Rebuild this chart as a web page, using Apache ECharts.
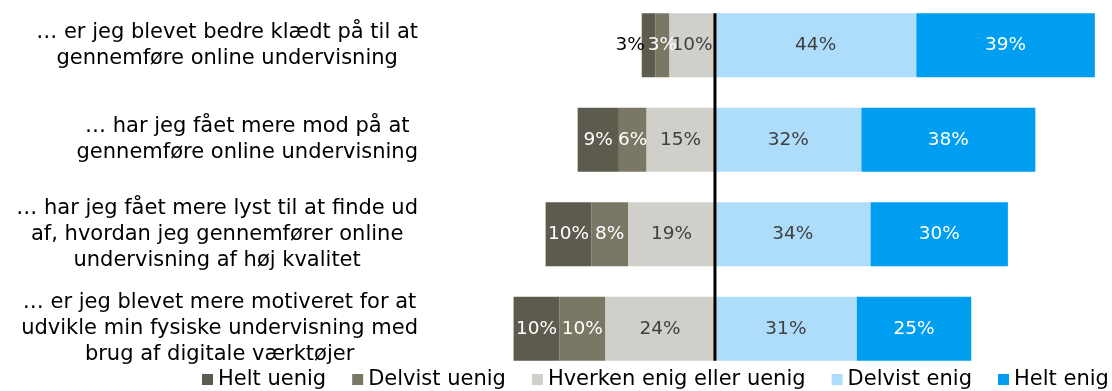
<!DOCTYPE html>
<html>
<head>
<meta charset="utf-8">
<script src="https://cdn.jsdelivr.net/npm/echarts@6/dist/echarts.min.js"></script>
<style>
  html, body { margin: 0; padding: 0; background: #fff; }
  #chart { width: 1112px; height: 391px; }
</style>
</head>
<body>
<div id="chart"></div>
<script>
// Survey statements (one bar each, top to bottom)
const categories = [
  '… er jeg blevet bedre klædt på til at\ngennemføre online undervisning',
  '… har jeg fået mere mod på at\ngennemføre online undervisning',
  '… har jeg fået mere lyst til at finde ud\naf, hvordan jeg gennemfører online\nundervisning af høj kvalitet',
  '… er jeg blevet mere motiveret for at\nudvikle min fysiske undervisning med\nbrug af digitale værktøjer'
];

// Answer shares in percent
const heltUenig    = [3, 9, 10, 10];
const delvistUenig = [3, 6, 8, 10];
const hverken      = [10, 15, 19, 24];
const delvistEnig  = [44, 32, 34, 31];
const heltEnig     = [39, 38, 30, 25];

const legendNames = ['Helt uenig', 'Delvist uenig', 'Hverken enig eller uenig', 'Delvist enig', 'Helt enig'];

const FONT = 'DejaVu Sans';
const BAR_W = 64;
const colors = {
  heltUenig: '#5d5b4d',
  delvistUenig: '#7a7865',
  hverken: '#d0cfca',
  delvistEnig: '#aeddfc',
  heltEnig: '#009ef0'
};

const pctLabel = (color) => ({
  show: true,
  position: 'inside',
  color: color,
  fontFamily: FONT,
  fontSize: 18.5,
  formatter: (p) => Math.abs(p.value) + '%'
});

function barSeries(name, values, color, labelColor, sign) {
  return {
    name: name,
    type: 'bar',
    stack: 'total',
    barWidth: BAR_W,
    itemStyle: { color: color },
    label: pctLabel(labelColor),
    emphasis: { disabled: true },
    data: values.map(v => sign * v)
  };
}

// Disagreeing and neutral answers extend to the left of zero
const sHverken = barSeries('Hverken enig eller uenig', hverken, colors.hverken, '#404040', -1);
const sDelvistUenig = barSeries('Delvist uenig', delvistUenig, colors.delvistUenig, '#ffffff', -1);
const sHeltUenig = barSeries('Helt uenig', heltUenig, colors.heltUenig, '#ffffff', -1);
// a segment too narrow for its label gets the label just outside
sHeltUenig.data = sHeltUenig.data.map((v, i) => heltUenig[i] < 5
  ? { value: v, label: { position: 'left', distance: -3, color: '#000000' } }
  : v);
const sDelvistEnig = barSeries('Delvist enig', delvistEnig, colors.delvistEnig, '#404040', 1);
const sHeltEnig = barSeries('Helt enig', heltEnig, colors.heltEnig, '#ffffff', 1);

// Vertical zero line spanning the bars
const zeroLine = {
  type: 'custom',
  name: 'zero',
  z: 10,
  silent: true,
  data: [[0, 0]],
  encode: { x: 0, y: 1 },
  renderItem: function (params, api) {
    const top = api.coord([0, 0]);
    const bottom = api.coord([0, categories.length - 1]);
    const half = BAR_W / 2;
    return {
      type: 'line',
      shape: { x1: top[0], y1: top[1] - half, x2: bottom[0], y2: bottom[1] + half },
      style: { stroke: '#000000', lineWidth: 3 }
    };
  }
};

const chart = echarts.init(document.getElementById('chart'), null, { renderer: 'canvas' });
chart.setOption({
  animation: false,
  backgroundColor: '#ffffff',
  textStyle: { fontFamily: FONT },
  grid: {
    left: 509, right: 8, top: -2, bottom: 15,
    containLabel: false,
    outerBoundsMode: 'none'
  },
  xAxis: {
    type: 'value',
    min: -45,
    max: 85,
    show: false
  },
  yAxis: {
    type: 'category',
    inverse: true,
    data: categories,
    axisLine: { show: false },
    axisTick: { show: false },
    splitLine: { show: false },
    axisLabel: {
      align: 'right',
      margin: 91,
      formatter: (v) => v.split('\n').map(line => '{c|' + line + '}').join('\n'),
      rich: {
        c: {
          align: 'center',
          fontFamily: FONT,
          fontSize: 21,
          lineHeight: 26,
          color: '#000000'
        }
      }
    }
  },
  legend: {
    data: legendNames,
    left: 202,
    top: 369,
    width: 1100,
    padding: 0,
    itemWidth: 11,
    itemHeight: 11,
    itemGap: 26,
    icon: 'rect',
    selectedMode: false,
    textStyle: { fontFamily: FONT, fontSize: 21, color: '#000000', padding: [0, 0, 0, 0] }
  },
  series: [sHverken, sDelvistUenig, sHeltUenig, sDelvistEnig, sHeltEnig, zeroLine]
});
</script>
</body>
</html>
